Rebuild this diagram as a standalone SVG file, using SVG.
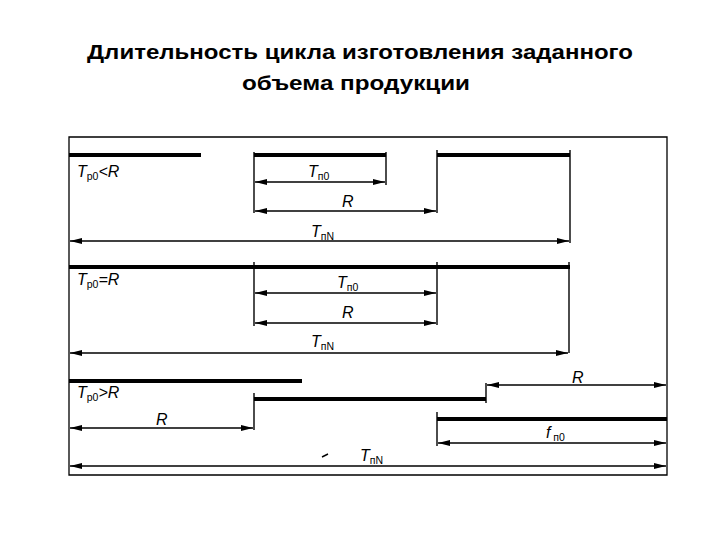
<svg xmlns="http://www.w3.org/2000/svg" width="720" height="540" viewBox="0 0 720 540">
<defs>
<marker id="ah" viewBox="0 0 12 6" refX="12" refY="3" markerWidth="12" markerHeight="6" markerUnits="userSpaceOnUse" orient="auto-start-reverse">
<path d="M0,0 L12,3 L0,6 Z" fill="#000"/>
</marker>
</defs>
<style>
.title{font-family:"Liberation Sans",Arial,sans-serif;font-weight:bold;font-size:21px;fill:#000;text-anchor:middle}
.frame{fill:none;stroke:#000;stroke-width:1.3}
.thick{stroke:#000;stroke-width:4;fill:none}
.tick{stroke:#000;stroke-width:1.4;fill:none}
.dim{stroke:#000;stroke-width:1.3;fill:none;marker-start:url(#ah);marker-end:url(#ah)}
.lbl{font-family:"Liberation Sans",Arial,sans-serif;font-style:italic;font-size:16px;fill:#000}
.sub{font-size:10.5px;font-style:normal}
</style>
<rect width="720" height="540" fill="#fff"/>
<text class="title" x="360" y="59" textLength="546" lengthAdjust="spacingAndGlyphs">Длительность цикла изготовления заданного</text>
<text class="title" x="356" y="90" textLength="228" lengthAdjust="spacingAndGlyphs">объема продукции</text>

<g id="frame">
<path class="frame" d="M69,137 H667 V475 H69 Z"/>
</g>

<g id="case1">
<line class="thick" x1="69" y1="155" x2="201" y2="155"/>
<line class="thick" x1="254" y1="155" x2="386" y2="155"/>
<line class="thick" x1="437" y1="155" x2="570" y2="155"/>
<line class="tick" x1="254" y1="152" x2="254" y2="213"/>
<line class="tick" x1="386" y1="152" x2="386" y2="185"/>
<line class="tick" x1="437" y1="150" x2="437" y2="213"/>
<line class="tick" x1="570" y1="150" x2="570" y2="243"/>
<text class="lbl" x="77" y="177">T<tspan class="sub" dy="3">p0</tspan><tspan dy="-3">&lt;R</tspan></text>
<text class="lbl" x="308" y="177">T<tspan class="sub" dy="3">п0</tspan></text>
<text class="lbl" x="342" y="207">R</text>
<text class="lbl" x="311" y="237">T<tspan class="sub" dy="3">пN</tspan></text>
</g>

<g id="case2">
<line class="thick" x1="69" y1="267" x2="570" y2="267"/>
<line class="tick" x1="254" y1="262" x2="254" y2="326"/>
<line class="tick" x1="437" y1="262" x2="437" y2="325"/>
<line class="tick" x1="569" y1="262" x2="569" y2="353"/>
<text class="lbl" x="77" y="285">T<tspan class="sub" dy="3">p0</tspan><tspan dy="-3">=R</tspan></text>
<text class="lbl" x="337" y="288">T<tspan class="sub" dy="3">п0</tspan></text>
<text class="lbl" x="342" y="318">R</text>
<text class="lbl" x="311" y="347">T<tspan class="sub" dy="3">пN</tspan></text>
</g>

<g id="case3">
<line class="thick" x1="69" y1="381" x2="302" y2="381"/>
<line class="thick" x1="254" y1="399" x2="486" y2="399"/>
<line class="thick" x1="437" y1="419" x2="667" y2="419"/>
<line class="tick" x1="254" y1="393" x2="254" y2="430"/>
<line class="tick" x1="486" y1="383" x2="486" y2="403"/>
<line class="tick" x1="437" y1="412" x2="437" y2="446"/>
<line class="tick" x1="322" y1="457" x2="328" y2="454"/>
<text class="lbl" x="77" y="398">T<tspan class="sub" dy="3">p0</tspan><tspan dy="-3">&gt;R</tspan></text>
<text class="lbl" x="572" y="383">R</text>
<text class="lbl" x="156" y="425">R</text>
<text class="lbl" x="546" y="438">f<tspan class="sub" dy="3"> п0</tspan></text>
<text class="lbl" x="360" y="461">T<tspan class="sub" dy="3">пN</tspan></text>
</g>

<g id="connectors">
<line class="dim" x1="255" y1="182" x2="385" y2="182"/>
<line class="dim" x1="255" y1="211" x2="436" y2="211"/>
<line class="dim" x1="70" y1="241" x2="569" y2="241"/>
<line class="dim" x1="255" y1="293" x2="436" y2="293"/>
<line class="dim" x1="255" y1="323" x2="436" y2="323"/>
<line class="dim" x1="70" y1="353" x2="568" y2="353"/>
<line class="dim" x1="487" y1="385" x2="666" y2="385"/>
<line class="dim" x1="70" y1="428" x2="253" y2="428"/>
<line class="dim" x1="438" y1="443" x2="666" y2="443"/>
<line class="dim" x1="70" y1="466" x2="666" y2="466"/>
</g>
</svg>
